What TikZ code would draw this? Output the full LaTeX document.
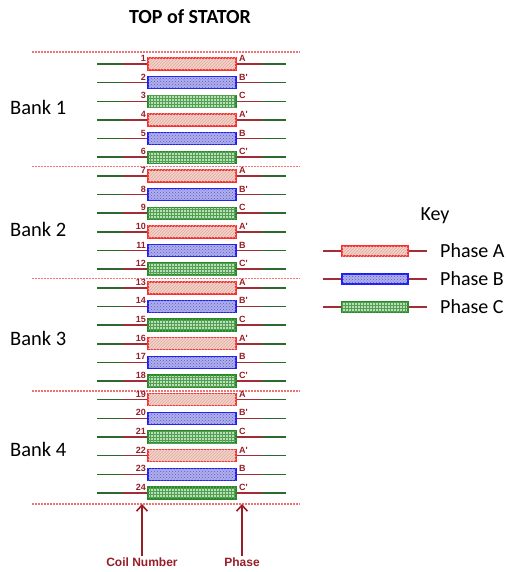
\documentclass[tikz,border=0pt]{standalone}
\usepackage{fontspec}
\setmainfont{Carlito}
\newfontfamily\arialf{Liberation Sans}
\usetikzlibrary{patterns,arrows.meta}
\definecolor{leadgreen}{RGB}{45,105,45}
\definecolor{leadred}{RGB}{160,45,55}
\definecolor{lblred}{RGB}{150,30,40}
\definecolor{dashred}{RGB}{240,115,115}
\definecolor{aedge}{RGB}{255,45,45}
\definecolor{afill}{RGB}{242,212,202}
\definecolor{apat}{RGB}{222,170,160}
\definecolor{bedge}{RGB}{30,30,250}
\definecolor{bfill}{RGB}{175,175,235}
\definecolor{bpat}{RGB}{90,90,210}
\definecolor{cedge}{RGB}{40,135,40}
\definecolor{cfill}{RGB}{185,222,185}
\definecolor{cpat}{RGB}{80,160,80}
\tikzset{
  coilbox/.style={draw, line width=1.4pt, inner sep=0pt, minimum width=88pt, minimum height=12pt},
  coilA/.style={coilbox, draw=aedge, fill=afill, postaction={pattern=north east lines, pattern color=apat}},
  coilB/.style={coilbox, draw=bedge, fill=bfill, postaction={pattern=crosshatch dots, pattern color=bpat}},
  coilC/.style={coilbox, draw=cedge, fill=cfill, postaction={pattern=grid, pattern color=cpat}},
  keyA/.style={coilA, minimum width=66pt, minimum height=10pt, line width=1.1pt},
  keyB/.style={coilB, minimum width=66pt, minimum height=10pt, line width=1.1pt},
  keyC/.style={coilC, minimum width=66pt, minimum height=10pt, line width=1.1pt},
  redlead/.style={draw=leadred, line width=1.5pt},
  greenlead/.style={draw=leadgreen, line width=1.5pt},
  smalllbl/.style={text=lblred, font=\arialf\bfseries\fontsize{9}{10}\selectfont, inner sep=0pt},
  biglbl/.style={text=lblred, font=\arialf\bfseries\fontsize{12}{13}\selectfont, inner sep=0pt},
  banklbl/.style={font=\fontsize{20.5}{22}\selectfont, inner sep=0pt, anchor=west},
  keylbl/.style={font=\fontsize{20}{22}\selectfont, inner sep=0pt, anchor=west},
  bankline/.style={draw=dashred, line width=1.3pt, dash pattern=on 2pt off 1pt},
  pointer/.style={draw=lblred, line width=1.6pt, shorten <=1pt, -{Straight Barb[length=6pt,width=11pt,line width=1.6pt]}}
}
\begin{document}
\begin{tikzpicture}[x=1pt,y=-1pt]
\useasboundingbox (0,0) rectangle (507,572);
% title
\node[font=\bfseries\fontsize{20}{22}\selectfont, inner sep=0pt] (title) at (190,17) {TOP of STATOR};
% bank separators
\foreach \k/\yy in {0/52, 1/166.5, 2/278.5, 3/391, 4/504} {
  \coordinate (dl\k) at (32,\yy);
  \coordinate (dr\k) at (300,\yy);
  \draw[bankline] (dl\k) -- (dr\k);
}
% coils
\foreach \i in {1,...,24} {
  \pgfmathsetmacro{\yy}{64+(\i-1)*18.65}
  \pgfmathtruncatemacro{\ph}{mod(\i-1,3)}
  \pgfmathtruncatemacro{\pp}{mod(\i-1,6)}
  \ifcase\ph
    \node[coilA] (c\i) at (192,\yy) {};
  \or
    \node[coilB] (c\i) at (192,\yy) {};
  \or
    \node[coilC] (c\i) at (192,\yy) {};
  \fi
  \coordinate (lg\i) at (97,\yy);
  \coordinate (lr\i) at (123,\yy);
  \coordinate (rr\i) at (262,\yy);
  \coordinate (rg\i) at (286,\yy);
  \draw[greenlead] (lg\i) -- (lr\i);
  \draw[redlead] (lr\i) -- (c\i.west);
  \draw[redlead] (c\i.east) -- (rr\i);
  \draw[greenlead] (rr\i) -- (rg\i);
  \node[smalllbl, anchor=base east] (n\i) at (146,\yy-2.5) {\i};
  \node[smalllbl, anchor=base west] (p\i) at (239,\yy-2.5)
    {\ifcase\pp A\or B'\or C\or A'\or B\or C'\fi};
}
% bank labels
\node[banklbl] (bank1) at (10,107) {Bank 1};
\node[banklbl] (bank2) at (10,229) {Bank 2};
\node[banklbl] (bank3) at (10,338) {Bank 3};
\node[banklbl] (bank4) at (10,449) {Bank 4};
% key
\node[font=\fontsize{20}{22}\selectfont, inner sep=0pt] (key) at (435,216) {Key};
\foreach \n/\yy/\s in {A/251/keyA, B/279/keyB, C/307/keyC} {
  \node[\s] (k\n) at (375,\yy) {};
  \coordinate (kl\n) at (323,\yy);
  \coordinate (kr\n) at (427,\yy);
  \draw[redlead, line width=1.2pt] (kl\n) -- (k\n.west);
  \draw[redlead, line width=1.2pt] (k\n.east) -- (kr\n);
  \node[keylbl] (kt\n) at (440,\yy) {Phase \n};
}
% pointers
\node[biglbl] (coilnum) at (142,562) {Coil Number};
\node[biglbl] (phase) at (242,562) {Phase};
\coordinate (cntip) at (142,504);
\coordinate (phtip) at (242,504);
\draw[pointer] (coilnum.north) -- (cntip);
\draw[pointer] (phase.north) -- (phtip);
\end{tikzpicture}
\end{document}
